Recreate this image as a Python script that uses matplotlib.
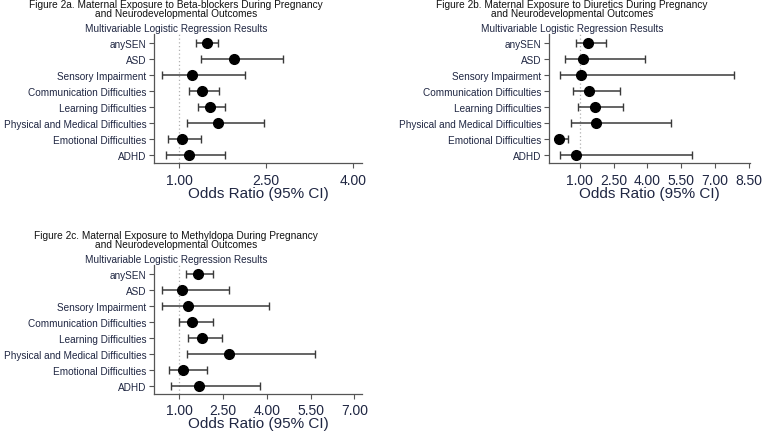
import matplotlib
matplotlib.use('Agg')
import matplotlib.pyplot as plt

plt.rcParams['font.family'] = ['Liberation Sans', 'DejaVu Sans']

outcomes = ['anySEN', 'ASD', 'Sensory Impairment', 'Communication Difficulties',
            'Learning Difficulties', 'Physical and Medical Difficulties',
            'Emotional Difficulties', 'ADHD']

# beta-blockers
bb_or = [1.48, 1.95, 1.23, 1.39, 1.53, 1.67, 1.05, 1.17]
bb_lo = [1.29, 1.38, 0.70, 1.17, 1.32, 1.13, 0.81, 0.77]
bb_hi = [1.67, 2.79, 2.14, 1.69, 1.80, 2.47, 1.38, 1.80]

# diuretics
di_or = [1.35, 1.15, 1.06, 1.40, 1.66, 1.72, 0.06, 0.84]
di_lo = [0.85, 0.35, 0.14, 0.70, 0.94, 0.59, 0.00, 0.13]
di_hi = [2.18, 3.90, 7.87, 2.77, 2.92, 5.06, 0.47, 5.99]

# methyldopa
me_or = [1.64, 1.09, 1.31, 1.46, 1.79, 2.70, 1.13, 1.68]
me_lo = [1.23, 0.43, 0.41, 1.00, 1.32, 1.27, 0.65, 0.74]
me_hi = [2.17, 2.70, 4.09, 2.17, 2.48, 5.65, 1.95, 3.76]

ticks_a = [1.0, 2.5, 4.0]
ticks_b = [1.0, 2.5, 4.0, 5.5, 7.0, 8.5]
ticks_c = [1.0, 2.5, 4.0, 5.5, 7.0]

W, H = 762, 435
fig = plt.figure(figsize=(W / 100, H / 100), dpi=100)
fig.patch.set_facecolor('white')

lab_col = '#1f2642'


def px_axes(x0, x1, ytop, ybot):
    return fig.add_axes([x0 / W, 1 - ybot / H, (x1 - x0) / W, (ybot - ytop) / H])


def panel(ax, ors, lo, hi, ticks, xlim, t1, t2, cx, ty, xpad, lpad):
    n = len(outcomes)
    ys = list(range(n, 0, -1))
    err = [[o - l for o, l in zip(ors, lo)], [h - o for o, h in zip(ors, hi)]]
    ax.axvline(1.0, color='#b0b0b0', lw=0.9, ls=(0, (1, 2)), zorder=1)
    ax.errorbar(ors, ys, xerr=err, fmt='o', color='black', ms=7,
                ecolor='#3a3a3a', elinewidth=1.1, capsize=3, capthick=1.0, zorder=3)
    ax.set_xlim(*xlim)
    ax.set_ylim(0.5, n + 0.55)
    ax.set_yticks(ys)
    ax.set_yticklabels(outcomes, fontsize=7.2, color=lab_col)
    ax.set_xticks(ticks)
    ax.set_xticklabels(['%.2f' % t for t in ticks], fontsize=10, color=lab_col)
    ax.set_xlabel('Odds Ratio (95% CI)', fontsize=11, color=lab_col, labelpad=lpad)
    for s in ['top', 'right']:
        ax.spines[s].set_visible(False)
    for s in ['left', 'bottom']:
        ax.spines[s].set_color('#555555')
        ax.spines[s].set_linewidth(0.9)
    ax.tick_params(axis='both', length=3.5, width=0.8, color='#555555', pad=2)
    ax.tick_params(axis='x', pad=xpad)
    fig.text(cx / W, 1 - ty / H, t1, ha='center', va='center', fontsize=7.3, color='#111111')
    fig.text(cx / W, 1 - (ty + 9) / H, t2, ha='center', va='center', fontsize=7.3, color='#111111')
    fig.text(cx / W, 1 - (ty + 24) / H, 'Multivariable Logistic Regression Results',
             ha='center', va='center', fontsize=7.2, color=lab_col)


ax_a = px_axes(154, 362, 35, 164)
panel(ax_a, bb_or, bb_lo, bb_hi, ticks_a, (0.57, 4.15),
      'Figure 2a. Maternal Exposure to Beta-blockers During Pregnancy',
      'and Neurodevelopmental Outcomes', 176, 5, 4, -1)

ax_b = px_axes(549, 750, 35, 164)
panel(ax_b, di_or, di_lo, di_hi, ticks_b, (-0.37, 8.56),
      'Figure 2b. Maternal Exposure to Diuretics During Pregnancy',
      'and Neurodevelopmental Outcomes', 572, 5, 4, -1)

ax_c = px_axes(154, 362, 266, 395)
panel(ax_c, me_or, me_lo, me_hi, ticks_c, (0.144, 7.26),
      'Figure 2c. Maternal Exposure to Methyldopa During Pregnancy',
      'and Neurodevelopmental Outcomes', 176, 236, 3, -1)

fig.savefig('out.png', dpi=100, facecolor='white')
